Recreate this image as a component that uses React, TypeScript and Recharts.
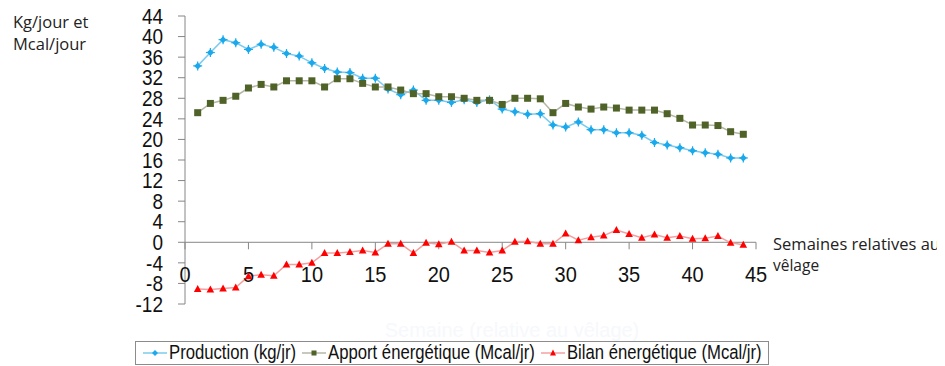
import { LineChart, Line, XAxis, YAxis, ReferenceLine, ReferenceDot } from 'recharts';

// Semaines relatives au vêlage
const weeks = Array.from({ length: 44 }, (_, i) => i + 1);

const production = [
  34.3, 36.9, 39.4, 38.8, 37.5, 38.5, 37.9, 36.7, 36.2, 34.9,
  33.8, 33.1, 33.0, 31.9, 31.9, 29.8, 28.7, 29.6, 27.6, 27.6,
  27.2, 27.7, 27.2, 27.7, 25.9, 25.4, 24.9, 25.0, 22.8, 22.4,
  23.4, 21.9, 21.9, 21.3, 21.3, 20.8, 19.4, 18.9, 18.4, 17.8,
  17.4, 17.1, 16.4, 16.4,
];

const apport = [
  25.2, 27.0, 27.6, 28.4, 30.0, 30.7, 30.2, 31.4, 31.4, 31.4,
  30.2, 31.8, 31.8, 30.9, 30.2, 30.2, 29.6, 28.9, 28.9, 28.3,
  28.3, 28.0, 27.6, 27.6, 26.8, 28.0, 28.0, 27.9, 25.2, 27.0,
  26.3, 25.9, 26.3, 26.1, 25.7, 25.7, 25.7, 25.0, 24.1, 22.8,
  22.8, 22.7, 21.5, 21.0,
];

const bilan = [
  -9.1, -9.2, -9.0, -8.8, -6.6, -6.3, -6.5, -4.3, -4.3, -4.0,
  -2.1, -2.1, -1.9, -1.6, -2.0, -0.3, -0.3, -2.1, -0.1, -0.4,
  0.1, -1.6, -1.6, -2.0, -1.6, 0.1, 0.2, -0.3, -0.3, 1.7,
  0.4, 1.0, 1.3, 2.4, 1.6, 0.9, 1.5, 0.9, 1.2, 0.7,
  0.8, 1.2, -0.1, -0.5,
];

const yTicks = [-12, -8, -4, 0, 4, 8, 12, 16, 20, 24, 28, 32, 36, 40, 44];
const xTicks = [0, 5, 10, 15, 20, 25, 30, 35, 40, 45];

const seriesNames = ['Production (kg/jr)', 'Apport énergétique (Mcal/jr)', 'Bilan énergétique (Mcal/jr)'];

const data = weeks.map((w, i) => ({
  week: w,
  production: production[i],
  apport: apport[i],
  bilan: bilan[i],
}));

const W = 945;
const H = 366;
const AXIS = '#868686';
const SANS = "'Liberation Sans', Arial, sans-serif";
const CAL = "'Open Sans', sans-serif";
const BLUE = { line: '#7ccbef', mark: '#1aa9ec' };
const GREEN = { line: '#b5b7a6', mark: '#4f6228' };
const RED = { line: '#f3a0a0', mark: '#ff0000' };

const DiamondDot = (p: any) => {
  const { cx, cy } = p;
  if (cx == null || cy == null) return null;
  return (
    <g>
      <path d={`M${cx},${cy - 3.5}L${cx + 3.5},${cy}L${cx},${cy + 3.5}L${cx - 3.5},${cy}Z`} fill={BLUE.mark} />
      <line x1={cx - 4.5} y1={cy} x2={cx + 4.5} y2={cy} stroke={BLUE.mark} strokeWidth={1.2} />
      <line x1={cx} y1={cy - 4.5} x2={cx} y2={cy + 4.5} stroke={BLUE.mark} strokeWidth={1.2} />
    </g>
  );
};

const SquareDot = (p: any) => {
  const { cx, cy } = p;
  if (cx == null || cy == null) return null;
  return <rect x={cx - 3.5} y={cy - 3.5} width={7} height={7} fill={GREEN.mark} />;
};

const TriangleDot = (p: any) => {
  const { cx, cy } = p;
  if (cx == null || cy == null) return null;
  return <path d={`M${cx},${cy - 4}L${cx + 3.8},${cy + 3}L${cx - 3.8},${cy + 3}Z`} fill={RED.mark} />;
};

// tall, narrow-looking digits on the value axis
const YTick = (p: any) => {
  const { x, y, payload } = p;
  return (
    <text transform={`translate(${x},${y}) scale(1,1.12)`} textAnchor="end" dy="0.36em" fontFamily={SANS} fontSize={19} fill="#111">
      {payload.value}
    </text>
  );
};

// tick mark + label hanging under the zero line
const XTick = (t: number) => (p: any) => {
  const { cx, cy } = p;
  return (
    <g>
      <line x1={cx} y1={cy} x2={cx} y2={cy + 7} stroke={AXIS} strokeWidth={1} />
      <text transform={`translate(${cx},${cy + 40}) scale(1,1.13)`} textAnchor="middle" fontFamily={SANS} fontSize={20} fill="#111">
        {t}
      </text>
    </g>
  );
};

const LegendIcon = ({ c, shape }: { c: { line: string; mark: string }; shape: string }) => (
  <svg width={24} height={12} style={{ display: 'block' }}>
    <line x1={0} y1={6} x2={24} y2={6} stroke={c.line} strokeWidth={1.5} />
    {shape === 'diamond' && <path d="M12,3L15,6L12,9L9,6Z" fill={c.mark} />}
    {shape === 'square' && <rect x={9.5} y={3.5} width={5} height={5} fill={c.mark} />}
    {shape === 'triangle' && <path d="M12,2.5L15,8.5L9,8.5Z" fill={c.mark} />}
  </svg>
);

export default function App() {
  const legendItems = [
    { name: seriesNames[0], c: BLUE, shape: 'diamond' },
    { name: seriesNames[1], c: GREEN, shape: 'square' },
    { name: seriesNames[2], c: RED, shape: 'triangle' },
  ];

  // pull the drawing up over the body margin so it covers the whole window
  return (
    <div style={{ position: 'relative', width: W, height: H, margin: '-8px 0 0 -8px' }}>
      <svg width={W} height={H} style={{ position: 'absolute', left: 0, top: 0 }}>
        <text x={13} y={28} fontFamily={CAL} fontSize={16.5} fill="#222">Kg/jour et</text>
        <text x={13} y={50} fontFamily={CAL} fontSize={16.5} fill="#222">Mcal/jour</text>
        <text x={773} y={250} fontFamily={CAL} fontSize={15.5} fill="#222" textLength={167} lengthAdjust="spacingAndGlyphs">
          Semaines relatives au
        </text>
        <text x={773} y={271} fontFamily={CAL} fontSize={15.5} fill="#222">vêlage</text>
        <text x={512} y={337} textAnchor="middle" fontFamily={SANS} fontSize={20} fill="#f6f8fc">
          Semaine (relative au vêlage)
        </text>
      </svg>

      <div style={{ position: 'absolute', left: 0, top: 0 }}>
        <LineChart width={W} height={H} data={data} margin={{ top: 16, right: 189, bottom: 62, left: 125 }}>
          <XAxis dataKey="week" type="number" domain={[0, 45]} ticks={xTicks} hide />
          <YAxis
            type="number"
            domain={[-12, 44]}
            ticks={yTicks}
            interval={0}
            width={60}
            axisLine={{ stroke: AXIS }}
            tickLine={{ stroke: AXIS }}
            tickSize={7}
            tickMargin={15}
            tick={<YTick />}
          />
          <ReferenceLine y={0} stroke={AXIS} strokeWidth={1} />
          {xTicks.map((t) => (
            <ReferenceDot key={t} x={t} y={0} r={0} shape={XTick(t)} />
          ))}
          <Line dataKey="production" type="linear" stroke={BLUE.line} strokeWidth={1.5} dot={<DiamondDot />} isAnimationActive={false} />
          <Line dataKey="apport" type="linear" stroke={GREEN.line} strokeWidth={1.5} dot={<SquareDot />} isAnimationActive={false} />
          <Line dataKey="bilan" type="linear" stroke={RED.line} strokeWidth={1.5} dot={<TriangleDot />} isAnimationActive={false} />
        </LineChart>
      </div>

      <div
        style={{
          position: 'absolute',
          left: 135,
          top: 341,
          width: 634,
          height: 24,
          border: '1px solid #8c8c8c',
          display: 'flex',
          alignItems: 'center',
          paddingLeft: 7,
          boxSizing: 'border-box',
          fontFamily: SANS,
          fontSize: 16.7,
          color: '#111',
          whiteSpace: 'nowrap',
        }}
      >
        {legendItems.map((it, i) => (
          <div key={it.name} style={{ display: 'flex', alignItems: 'center', marginLeft: i === 0 ? 0 : 6 }}>
            <LegendIcon c={it.c} shape={it.shape} />
            <span style={{ marginLeft: 2, display: 'inline-block', transform: 'scaleY(1.2)' }}>{it.name}</span>
          </div>
        ))}
      </div>
    </div>
  );
}
